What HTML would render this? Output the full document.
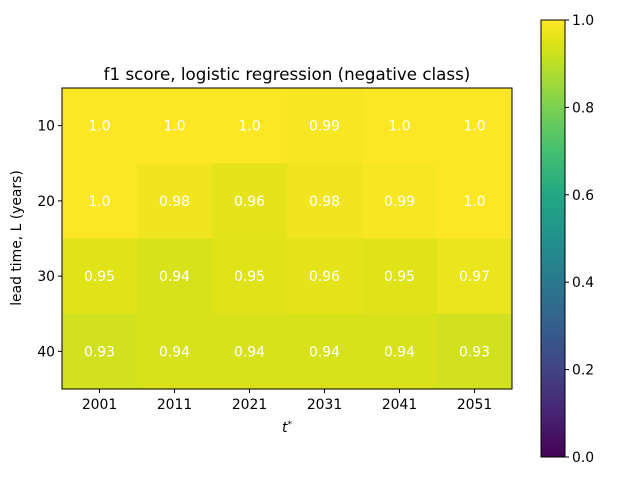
<!DOCTYPE html>
<html><head><meta charset="utf-8"><style>
body{margin:0;background:#fff;}
svg text{font-family:"DejaVu Sans","Liberation Sans",sans-serif;}
</style></head><body>
<svg id="chart" width="640" height="480" xmlns="http://www.w3.org/2000/svg">
<defs>
<linearGradient id="vir" x1="0" y1="1" x2="0" y2="0">
<stop offset="0" stop-color="#440154"/><stop offset="0.1" stop-color="#482475"/>
<stop offset="0.2" stop-color="#414487"/><stop offset="0.3" stop-color="#355f8d"/>
<stop offset="0.4" stop-color="#2a788e"/><stop offset="0.5" stop-color="#21918c"/>
<stop offset="0.6" stop-color="#22a884"/><stop offset="0.7" stop-color="#44bf70"/>
<stop offset="0.8" stop-color="#7ad151"/><stop offset="0.9" stop-color="#bddf26"/>
<stop offset="0.95" stop-color="#dfe318"/><stop offset="1" stop-color="#fde725"/>
</linearGradient>
</defs>
<g id="cells"></g>
<rect x="62" y="88" width="450" height="301" fill="none" stroke="#000" stroke-width="1"/>
<g id="axes"></g>
<text x="287" y="80" font-size="16.7" text-anchor="middle">f1 score, logistic regression (negative class)</text>
<text x="287" y="432" font-size="13.9" text-anchor="middle" font-style="italic">t<tspan font-size="9" dy="-5">*</tspan></text>
<text x="21" y="238" font-size="13.9" text-anchor="middle" transform="rotate(-90 21 238)">lead time, L (years)</text>
<rect x="541" y="20" width="24" height="437" fill="url(#vir)" stroke="#000" stroke-width="1"/>
<g id="cbar"></g>
</svg>
<script>
const xLabels = ["2001","2011","2021","2031","2041","2051"];
const yLabels = ["10","20","30","40"];
const values = [
 [1.0,1.0,1.0,0.99,1.0,1.0],
 [1.0,0.98,0.96,0.98,0.99,1.0],
 [0.95,0.94,0.95,0.96,0.95,0.97],
 [0.93,0.94,0.94,0.94,0.94,0.93]
];
const cbarTicks = [0.0,0.2,0.4,0.6,0.8,1.0];
const stops=[[0,"#440154"],[0.1,"#482475"],[0.2,"#414487"],[0.3,"#355f8d"],[0.4,"#2a788e"],[0.5,"#21918c"],[0.6,"#22a884"],[0.7,"#44bf70"],[0.8,"#7ad151"],[0.9,"#bddf26"],[0.95,"#dfe318"],[1,"#fde725"]];
function hex(h){return [1,3,5].map(i=>parseInt(h.substr(i,2),16));}
function vir(v){v=Math.max(0,Math.min(1,v));for(let i=1;i<stops.length;i++){if(v<=stops[i][0]){const a=stops[i-1],b=stops[i];const t=(v-a[0])/(b[0]-a[0]);const ca=hex(a[1]),cb=hex(b[1]);return "rgb("+ca.map((c,k)=>Math.round(c+(cb[k]-c)*t)).join(",")+")";}}return stops[stops.length-1][1];}
const X0=62,X1=512,Y0=88,Y1=389;
const cw=(X1-X0)/xLabels.length, ch=(Y1-Y0)/yLabels.length;
const xPos=i=>X0+cw*(i+0.5), yPos=j=>Y0+ch*(j+0.5);
const NS="http://www.w3.org/2000/svg";
function mk(tag,attrs,parent,txt){const e=document.createElementNS(NS,tag);for(const k in attrs)e.setAttribute(k,attrs[k]);if(txt!==undefined)e.textContent=txt;parent.appendChild(e);return e;}
const cells=document.getElementById("cells"), axes=document.getElementById("axes"), cbar=document.getElementById("cbar");
values.forEach((row,j)=>row.forEach((v,i)=>{
 const r=mk("rect",{x:X0+cw*i,y:Y0+ch*j,width:cw+0.5,height:ch+0.5,fill:vir(v)},cells);
 
 
 const t=mk("text",{x:xPos(i),y:yPos(j)+5,"font-size":13.9,"text-anchor":"middle",fill:"#fff"},cells,v.toFixed(2).replace(/0$/,"").replace(/\.$/,".0"));
 
 
}));
xLabels.forEach((l,i)=>{
 const tk=mk("line",{x1:xPos(i),x2:xPos(i),y1:Y1,y2:Y1+4,stroke:"#000"},axes);
 
 
 const t=mk("text",{x:xPos(i),y:Y1+20,"font-size":13.9,"text-anchor":"middle"},axes,l);
 
 
});
yLabels.forEach((l,j)=>{
 const tk=mk("line",{x1:X0-4,x2:X0,y1:yPos(j),y2:yPos(j),stroke:"#000"},axes);
 
 
 const t=mk("text",{x:X0-7,y:yPos(j)+5,"font-size":13.9,"text-anchor":"end"},axes,l);
 
 
});
const cy=v=>457-(457-20)*v;
cbarTicks.forEach(v=>{
 const tk=mk("line",{x1:565,x2:569,y1:cy(v),y2:cy(v),stroke:"#000"},cbar);
 
 
 const t=mk("text",{x:572,y:cy(v)+5,"font-size":13.9},cbar,v.toFixed(1));
 
 
});
</script>
</body></html>
